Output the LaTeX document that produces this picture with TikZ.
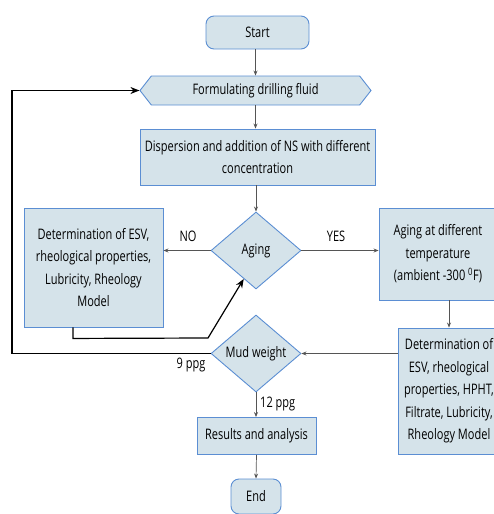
\documentclass[tikz,border=0pt]{standalone}
\usepackage{fontspec}
\setmainfont{Open Sans}[FakeStretch=0.76]
\usetikzlibrary{shapes.geometric,shapes.symbols,arrows.meta,calc}
\definecolor{boxfill}{HTML}{D5E3EA}
\definecolor{boxline}{HTML}{5B8ED3}
\definecolor{arrgray}{HTML}{555555}
\tikzset{
  base/.style={draw=boxline,fill=boxfill,line width=0.9pt,font=\fontsize{14.5}{22.5}\selectfont,align=center,inner sep=1pt},
  term/.style={base,rounded corners=8pt},
  proc/.style={base},
  dec/.style={base,diamond,inner sep=0pt},
  arr/.style={draw=arrgray,line width=0.7pt,-{Stealth[length=5pt,width=4pt]}},
  back/.style={draw=black,line width=1.2pt,-{Stealth[length=9pt,width=7pt]}},
  lab/.style={font=\fontsize{14.5}{16}\selectfont,inner sep=0pt}
}
\begin{document}
\begin{tikzpicture}[x=1pt,y=-1pt]
\useasboundingbox (0,0) rectangle (494,514);
\node[term,minimum width=103pt,minimum height=33pt] (start) at (257.5,32.5) {Start};
\node[base,signal,signal to=west and east,signal pointer angle=104,minimum width=231pt,minimum height=29pt] (form) at (255.5,90.5) {Formulating drilling fluid};
\node[proc,minimum width=235pt,minimum height=56pt] (disp) at (257.5,157) {Dispersion and addition of NS with different\\concentration};
\node[dec,minimum width=90pt,minimum height=77pt] (aging) at (256,250.5) {Aging};
\node[proc,minimum width=139pt,minimum height=119pt] (left) at (93.5,267.5) {Determination of ESV,\\rheological properties,\\Lubricity, Rheology\\Model};
\node[proc,minimum width=118pt,minimum height=92pt] (agebox) at (438,254) {Aging at different\\temperature\\(ambient -300 \textsuperscript{0}F)};
\node[proc,minimum width=102pt,minimum height=126pt] (det) at (449,391) {Determination of\\ESV, rheological\\properties, HPHT,\\Filtrate, Lubricity,\\Rheology Model};
\node[dec,minimum width=90pt,minimum height=77pt] (mud) at (256,353.5) {Mud weight};
\node[proc,minimum width=119pt,minimum height=37pt] (res) at (256.5,436) {Results and analysis};
\node[term,minimum width=50pt,minimum height=35pt] (end) at (256,496.5) {End};

\draw[arr] (start.south -| form.north) -- (form.north);
\draw[arr] (form.south) -- (form.south |- disp.north);
\draw[arr] (disp.south -| aging.north) -- (aging.north);
\draw[arr] (aging.west) -- (aging.west -| left.east);
\draw[arr] (aging.east) -- (aging.east -| agebox.west);
\draw[arr] (det.north |- agebox.south) -- (det.north);
\draw[arr] (det.west |- mud.east) -- (mud.east);
\draw[arr] (mud.south) -- (mud.south |- res.north);
\draw[arr] (res.south) -- (end.north);
\draw[back] ([xshift=-20.5pt]left.south) -- ++(0,11) -- (208,338) -- ($(aging.west)!0.73!(aging.south)$);
\draw[back] (mud.west) -- (12,353.5) |- (form.west);

\node[lab] (no) at (188,236) {NO};
\node[lab] (yes) at (336,236) {YES};
\node[lab] (p9) at (191,365) {9 ppg};
\node[lab,anchor=west] (p12) at (260,404) {12 ppg};
\end{tikzpicture}
\end{document}
